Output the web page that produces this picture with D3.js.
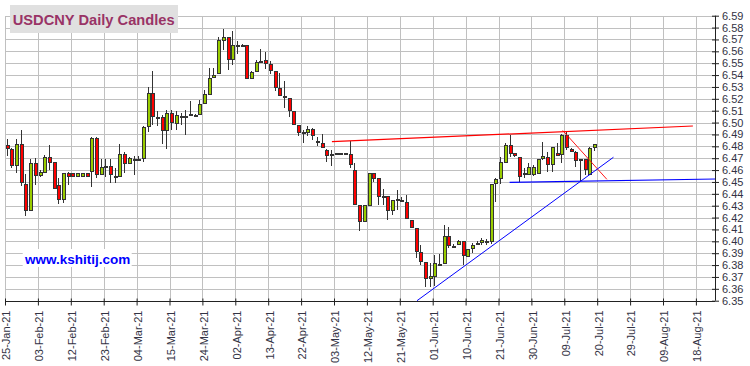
<!DOCTYPE html>
<html><head><meta charset="utf-8">
<script src="https://cdn.jsdelivr.net/npm/d3@7"></script>
<style>html,body{margin:0;padding:0;background:#fff;}svg{display:block;}</style>
</head><body>
<svg id="chart" width="750" height="366"></svg>
<script>
// ---- DATA (index = trading weekday from 25-Jan-21) ----
const openP = [6.4812,6.4775,6.4643,6.4817,6.4483,6.4264,6.4663,6.4559,6.4587,6.4713,
6.4666,6.4475,6.4354,6.4573,6.4573,6.4550,6.4550,6.4573,6.4587,6.4868,
6.4567,6.4638,6.4638,6.4553,6.4551,6.4736,6.4657,6.4691,6.4691,6.4700,
6.4972,6.5248,6.5046,6.5046,6.4938,6.5078,6.5000,6.5052,6.5046,6.5070,
6.5065,6.5074,6.5170,6.5243,6.5390,6.5417,6.5698,6.5720,6.5535,6.5656,
6.5656,6.5651,6.5377,6.5434,6.5518,6.5524,6.5490,6.5434,6.5293,6.5223,
6.5208,6.5101,6.4977,6.4918,6.4921,6.4946,6.4842,6.4828,6.4766,6.4735,
6.4741,6.4741,6.4741,6.4735,6.4601,6.4307,6.4172,6.4307,6.4573,6.4531,
6.4383,6.4383,6.4265,6.4355,6.4349,6.4335,6.4180,6.4110,6.3906,6.3822,
6.3690,6.3704,6.3808,6.3816,6.4041,6.3962,6.3979,6.3999,6.3872,6.3942,
6.3990,6.3990,6.3995,6.4005,6.4489,6.4531,6.4666,6.4812,6.4742,6.4714,
6.4573,6.4568,6.4568,6.4573,6.4700,6.4714,6.4652,6.4747,6.4733,6.4896,
6.4781,6.4756,6.4691,6.4691,6.4568,6.4792];
const highP = [6.4860,6.4784,6.4860,6.4938,6.4567,6.4690,6.4700,6.4600,6.4728,6.4812,
6.4670,6.4530,6.4573,6.4587,6.4573,6.4573,6.4573,6.4573,6.4876,6.4882,
6.4691,6.4690,6.4690,6.4615,6.4820,6.4756,6.4708,6.4719,6.4719,6.4975,
6.5300,6.5437,6.5094,6.5060,6.5108,6.5108,6.5100,6.5080,6.5110,6.5178,
6.5075,6.5194,6.5277,6.5459,6.5459,6.5720,6.5788,6.5724,6.5774,6.5687,
6.5665,6.5651,6.5434,6.5527,6.5617,6.5597,6.5518,6.5434,6.5420,6.5349,
6.5208,6.5101,6.4983,6.4941,6.4975,6.4955,6.4879,6.4904,6.4777,6.4772,
6.4741,6.4741,6.4741,6.4842,6.4657,6.4307,6.4307,6.4573,6.4573,6.4531,
6.4439,6.4383,6.4349,6.4433,6.4371,6.4390,6.4180,6.4110,6.3971,6.3822,
6.3816,6.3885,6.3893,6.4139,6.4124,6.3975,6.4013,6.3999,6.3934,6.3984,
6.3999,6.4030,6.4020,6.4483,6.4531,6.4714,6.4826,6.4896,6.4747,6.4714,
6.4615,6.4657,6.4643,6.4691,6.4840,6.4756,6.4792,6.4826,6.4901,6.4924,
6.4784,6.4764,6.4691,6.4691,6.4792,6.4820];
const lowP = [6.4720,6.4615,6.4579,6.4466,6.4213,6.4264,6.4475,6.4545,6.4579,6.4600,
6.4447,6.4312,6.4320,6.4475,6.4550,6.4550,6.4550,6.4550,6.4455,6.4532,
6.4559,6.4539,6.4488,6.4488,6.4551,6.4573,6.4657,6.4559,6.4685,6.4670,
6.4924,6.4980,6.4967,6.4820,6.4775,6.4940,6.4940,6.4980,6.4896,6.5065,
6.5060,6.5066,6.5164,6.5234,6.5383,6.5417,6.5613,6.5442,6.5487,6.5575,
6.5645,6.5377,6.5363,6.5434,6.5504,6.5448,6.5406,6.5265,6.5223,6.5124,
6.5048,6.4983,6.4885,6.4828,6.4885,6.4856,6.4800,6.4786,6.4665,6.4631,
6.4741,6.4741,6.4741,6.4617,6.4315,6.4083,6.4172,6.4307,6.4503,6.4307,
6.4307,6.4180,6.4223,6.4265,6.4335,6.4203,6.4118,6.3858,6.3802,6.3615,
6.3615,6.3620,6.3794,6.3816,6.3942,6.3955,6.3970,6.3802,6.3872,6.3899,
6.3979,6.3970,6.3970,6.3980,6.4335,6.4483,6.4657,6.4714,6.4714,6.4503,
6.4531,6.4559,6.4553,6.4573,6.4685,6.4587,6.4587,6.4728,6.4657,6.4770,
6.4756,6.4624,6.4509,6.4559,6.4559,6.4764];
const closeP = [6.4784,6.4643,6.4817,6.4500,6.4264,6.4663,6.4559,6.4587,6.4713,6.4671,
6.4447,6.4354,6.4573,6.4550,6.4550,6.4573,6.4573,6.4550,6.4868,6.4567,
6.4624,6.4638,6.4567,6.4553,6.4736,6.4657,6.4700,6.4691,6.4691,6.4962,
6.5248,6.5052,6.5046,6.4938,6.5078,6.5000,6.5065,6.5046,6.5052,6.5070,
6.5065,6.5158,6.5243,6.5375,6.5403,6.5698,6.5720,6.5535,6.5655,6.5656,
6.5656,6.5377,6.5428,6.5513,6.5518,6.5496,6.5442,6.5301,6.5231,6.5223,
6.5104,6.4989,6.4918,6.4918,6.4946,6.4893,6.4842,6.4792,6.4724,6.4735,
6.4741,6.4741,6.4741,6.4651,6.4315,6.4172,6.4307,6.4573,6.4531,6.4383,
6.4383,6.4265,6.4349,6.4355,6.4349,6.4203,6.4118,6.3914,6.3830,6.3690,
6.3710,6.3816,6.3808,6.4041,6.3962,6.3962,6.4004,6.3884,6.3934,6.3970,
6.3990,6.4010,6.4005,6.4483,6.4523,6.4666,6.4812,6.4747,6.4722,6.4553,
6.4573,6.4629,6.4629,6.4691,6.4719,6.4652,6.4792,6.4733,6.4896,6.4792,
6.4764,6.4691,6.4691,6.4607,6.4784,6.4820];
const tickLabels = ["25-Jan-21","03-Feb-21","12-Feb-21","23-Feb-21","04-Mar-21","15-Mar-21",
"24-Mar-21","02-Apr-21","13-Apr-21","22-Apr-21","03-May-21","12-May-21","21-May-21",
"01-Jun-21","10-Jun-21","21-Jun-21","30-Jun-21","09-Jul-21","20-Jul-21","29-Jul-21",
"09-Aug-21","18-Aug-21"];
const tickIdx = tickLabels.map((d,k)=>k*7);
const yTicks = d3.range(0,25).map(k=> +(6.35 + k*0.01).toFixed(2));
// trend lines: [index, price] endpoints
const redUpper = [[69.2,6.4839],[146.0,6.4971]];
const redDown = [[118.3,6.4934],[127.7,6.4522]];
const blueRise = [[87.3,6.3500],[129.1,6.4708]];
const blueFlat = [[107.0,6.4497],[150.8,6.4525]];

// ---- LAYOUT ----
const svg = d3.select("#chart");
const L = 5, R = 715, T = 15.7, B = 300.7;
const x = d3.scaleLinear().domain([0,151]).range([L, L + 151*4.7]);
const y = d3.scaleLinear().domain([6.35,6.59]).range([B,T]);
const FONT = "'Liberation Sans', Arial, sans-serif";

svg.append("rect").attr("width",750).attr("height",366).attr("fill","#fff");

// grid
const g = svg.append("g").attr("shape-rendering","crispEdges");
g.selectAll("line.h").data(yTicks).join("line")
  .attr("x1",L).attr("x2",R).attr("y1",d=>Math.round(y(d))+0.5).attr("y2",d=>Math.round(y(d))+0.5)
  .attr("stroke","#c0c0c0").attr("stroke-width",1);
g.selectAll("line.v").data(tickIdx).join("line")
  .attr("x1",d=>Math.round(x(d))+0.5).attr("x2",d=>Math.round(x(d))+0.5)
  .attr("y1",T).attr("y2",B).attr("stroke","#c0c0c0").attr("stroke-width",1);

// watermark background (covers grid)
svg.append("rect").attr("x",22.7).attr("y",249).attr("width",109).attr("height",18).attr("fill","#fff");
svg.append("text").attr("x",25).attr("y",264).attr("font-family",FONT).attr("font-weight","bold")
  .attr("font-size","13.5px").attr("fill","#0000ff").text("www.kshitij.com");

// candles
const data = openP.map((o,i)=>({i,o,h:highP[i],l:lowP[i],c:closeP[i]}));
const cg = svg.append("g");
const cx = d => Math.round(x(d.i + 0.36));
cg.selectAll("line.w").data(data).join("line")
  .attr("x1",d=>cx(d)+0.5).attr("x2",d=>cx(d)+0.5)
  .attr("y1",d=>y(d.h)).attr("y2",d=>y(d.l))
  .attr("stroke","#333").attr("stroke-width",1).attr("shape-rendering","crispEdges");
cg.selectAll("rect.b").data(data).join("rect")
  .attr("shape-rendering","crispEdges")
  .attr("x",d=>cx(d)-1).attr("width",3)
  .attr("y",d=>Math.round(y(Math.max(d.o,d.c))))
  .attr("height",d=>Math.max(1,Math.round(Math.abs(y(d.o)-y(d.c)))))
  .attr("fill",d=> d.c>d.o ? "#99cc00" : (d.c<d.o ? "#ff0000" : "#333"))
  .attr("stroke","#333").attr("stroke-width",1);

// trend lines
const line = d3.line().x(d=>x(d[0]+0.36)).y(d=>y(d[1]));
svg.append("path").attr("d",line(redUpper)).attr("stroke","#ff0000").attr("stroke-width",1.2).attr("fill","none");
svg.append("path").attr("d",line(redDown)).attr("stroke","#ff0000").attr("stroke-width",0.9).attr("fill","none");
svg.append("path").attr("d",line(blueRise)).attr("stroke","#0000ff").attr("stroke-width",1).attr("fill","none");
svg.append("path").attr("d",line(blueFlat)).attr("stroke","#0000ff").attr("stroke-width",1.2).attr("fill","none");

// right axis
const ay = svg.append("g").attr("transform",`translate(${R},0)`);
const yAxis = d3.axisRight(y).tickValues(yTicks).tickFormat(d3.format(".2f")).tickSize(4).tickPadding(4);
ay.call(yAxis);
ay.select(".domain").attr("stroke","#222").attr("d",`M0.5,${T}V${B}`);
ay.selectAll(".tick line").attr("x1",-3).attr("x2",4).attr("stroke","#222");
ay.selectAll(".tick text").attr("font-family",FONT).attr("font-size","11px").attr("fill","#333344").attr("x",7);

// bottom axis
const ax = svg.append("g").attr("transform",`translate(0,${Math.round(B)+0.5})`);
const xAxis = d3.axisBottom(x).tickValues(tickIdx).tickFormat((d,k)=>tickLabels[k]).tickSize(4).tickSizeOuter(0);
ax.call(xAxis);
ax.select(".domain").attr("stroke","#222").attr("d",`M${L},0H${R}`);
ax.selectAll(".tick line").attr("y1",-3).attr("y2",4).attr("stroke","#222");
ax.selectAll(".tick text").attr("font-family",FONT).attr("font-size","11px").attr("fill","#333344")
  .attr("transform","translate(1,9) rotate(-90)").attr("text-anchor","end").attr("x",0).attr("y",0).attr("dy","0.35em");

// title
svg.append("rect").attr("x",10).attr("y",5).attr("width",168).attr("height",28).attr("fill","#e0e0e0");
svg.append("text").attr("x",12.7).attr("y",24.5).attr("font-family",FONT).attr("font-weight","bold")
  .attr("font-size","15.5px").attr("fill","#993366").attr("textLength",162).attr("lengthAdjust","spacingAndGlyphs")
  .text("USDCNY Daily Candles");
</script>
</body></html>
